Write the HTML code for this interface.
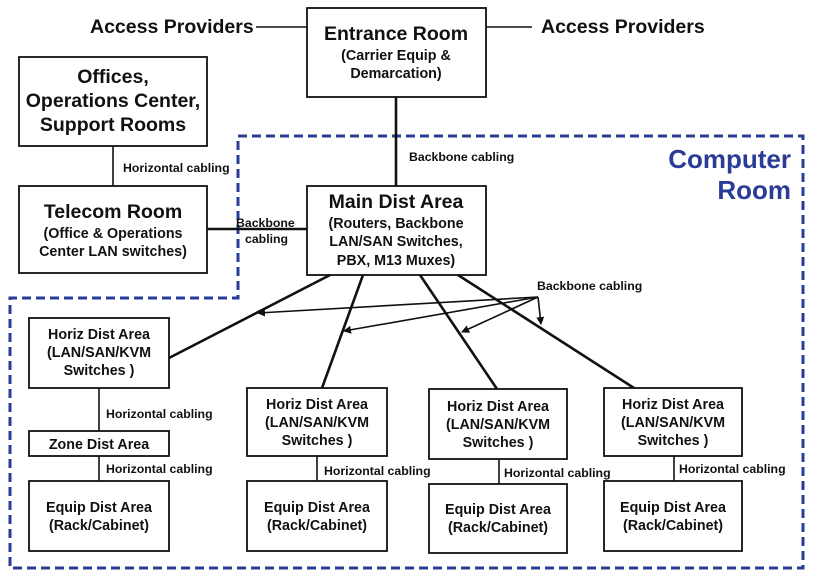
<!DOCTYPE html>
<html><head><meta charset="utf-8"><style>
html,body{margin:0;padding:0;background:#fff;}
svg{display:block;}
text{font-family:"Liberation Sans",Arial,sans-serif;font-weight:bold;fill:#111;}
.t{font-size:19.5px;text-anchor:middle;}
.s{font-size:14.3px;text-anchor:middle;}
.l{font-size:12.3px;}
.b{fill:#fff;stroke:#111;stroke-width:1.8;}
.ln{stroke:#111;stroke-width:1.6;fill:none;}
.bb{stroke:#111;stroke-width:2.6;fill:none;}
</style></head><body>
<svg width="817" height="578" viewBox="0 0 817 578" xmlns="http://www.w3.org/2000/svg">
<defs><marker id="a" markerWidth="8" markerHeight="8" refX="7" refY="4" orient="auto" markerUnits="userSpaceOnUse"><path d="M0,0 L8,4 L0,8 z" fill="#111"/></marker></defs>
<path d="M238,136 L803,136 L803,568 L10,568 L10,298 L238,298 Z" fill="none" stroke="#2a3c96" stroke-width="3" stroke-dasharray="9,5"/>
<text x="791" y="168" style="font-size:26px;fill:#2a3c96;text-anchor:end">Computer</text>
<text x="791" y="199" style="font-size:26px;fill:#2a3c96;text-anchor:end">Room</text>
<line class="ln" x1="256" y1="27" x2="307" y2="27"/>
<line class="ln" x1="486" y1="27" x2="532" y2="27"/>
<text x="90" y="33" style="font-size:19.5px">Access Providers</text>
<text x="541" y="33" style="font-size:19.5px">Access Providers</text>
<line class="bb" x1="396" y1="97" x2="396" y2="186"/>
<text class="l" x="409" y="161">Backbone cabling</text>
<line class="ln" x1="113" y1="146" x2="113" y2="186"/>
<text class="l" x="123" y="172">Horizontal cabling</text>
<line class="bb" x1="207" y1="229" x2="307" y2="229"/>
<text class="l" x="236" y="227">Backbone</text>
<text class="l" x="245" y="243">cabling</text>
<rect class="b" x="307" y="8" width="179" height="89"/>
<text class="t" x="396" y="40">Entrance Room</text>
<text class="s" x="396" y="60">(Carrier Equip &amp;</text>
<text class="s" x="396" y="78">Demarcation)</text>
<rect class="b" x="19" y="57" width="188" height="89"/>
<text class="t" x="113" y="83">Offices,</text>
<text class="t" x="113" y="107">Operations Center,</text>
<text class="t" x="113" y="131">Support Rooms</text>
<rect class="b" x="19" y="186" width="188" height="87"/>
<text class="t" x="113" y="218">Telecom Room</text>
<text class="s" x="113" y="238">(Office &amp; Operations</text>
<text class="s" x="113" y="256">Center LAN switches)</text>
<rect class="b" x="307" y="186" width="179" height="89"/>
<text class="t" x="396" y="208">Main Dist Area</text>
<text class="s" x="396" y="228">(Routers, Backbone</text>
<text class="s" x="396" y="246">LAN/SAN Switches,</text>
<text class="s" x="396" y="265">PBX, M13 Muxes)</text>
<line class="bb" x1="330" y1="275" x2="169" y2="358"/>
<line class="bb" x1="363" y1="275" x2="322" y2="388"/>
<line class="bb" x1="420" y1="275" x2="497" y2="389"/>
<line class="bb" x1="458" y1="275" x2="634" y2="388"/>
<text class="l" x="537" y="290">Backbone cabling</text>
<g class="ln" marker-end="url(#a)">
<line x1="538" y1="297" x2="258" y2="313"/>
<line x1="538" y1="297" x2="344" y2="331"/>
<line x1="538" y1="297" x2="462" y2="332"/>
<line x1="538" y1="297" x2="541" y2="324"/>
</g>
<line class="ln" x1="99" y1="388" x2="99" y2="481"/>
<rect class="b" x="29" y="318" width="140" height="70"/>
<text class="s" x="99" y="339">Horiz Dist Area</text>
<text class="s" x="99" y="357">(LAN/SAN/KVM</text>
<text class="s" x="99" y="375">Switches )</text>
<text class="l" x="106" y="418">Horizontal cabling</text>
<rect class="b" x="29" y="431" width="140" height="25"/>
<text class="s" x="99" y="449">Zone Dist Area</text>
<text class="l" x="106" y="473">Horizontal cabling</text>
<rect class="b" x="29" y="481" width="140" height="70"/>
<text class="s" x="99" y="512">Equip Dist Area</text>
<text class="s" x="99" y="530">(Rack/Cabinet)</text>
<line class="ln" x1="317" y1="456" x2="317" y2="481"/>
<rect class="b" x="247" y="388" width="140" height="68"/>
<text class="s" x="317" y="409">Horiz Dist Area</text>
<text class="s" x="317" y="427">(LAN/SAN/KVM</text>
<text class="s" x="317" y="445">Switches )</text>
<text class="l" x="324" y="475">Horizontal cabling</text>
<rect class="b" x="247" y="481" width="140" height="70"/>
<text class="s" x="317" y="512">Equip Dist Area</text>
<text class="s" x="317" y="530">(Rack/Cabinet)</text>
<line class="ln" x1="499" y1="459" x2="499" y2="484"/>
<rect class="b" x="429" y="389" width="138" height="70"/>
<text class="s" x="498" y="411">Horiz Dist Area</text>
<text class="s" x="498" y="429">(LAN/SAN/KVM</text>
<text class="s" x="498" y="447">Switches )</text>
<text class="l" x="504" y="477">Horizontal cabling</text>
<rect class="b" x="429" y="484" width="138" height="69"/>
<text class="s" x="498" y="514">Equip Dist Area</text>
<text class="s" x="498" y="532">(Rack/Cabinet)</text>
<line class="ln" x1="674" y1="456" x2="674" y2="481"/>
<rect class="b" x="604" y="388" width="138" height="68"/>
<text class="s" x="673" y="409">Horiz Dist Area</text>
<text class="s" x="673" y="427">(LAN/SAN/KVM</text>
<text class="s" x="673" y="445">Switches )</text>
<text class="l" x="679" y="473">Horizontal cabling</text>
<rect class="b" x="604" y="481" width="138" height="70"/>
<text class="s" x="673" y="512">Equip Dist Area</text>
<text class="s" x="673" y="530">(Rack/Cabinet)</text>
</svg>
</body></html>
